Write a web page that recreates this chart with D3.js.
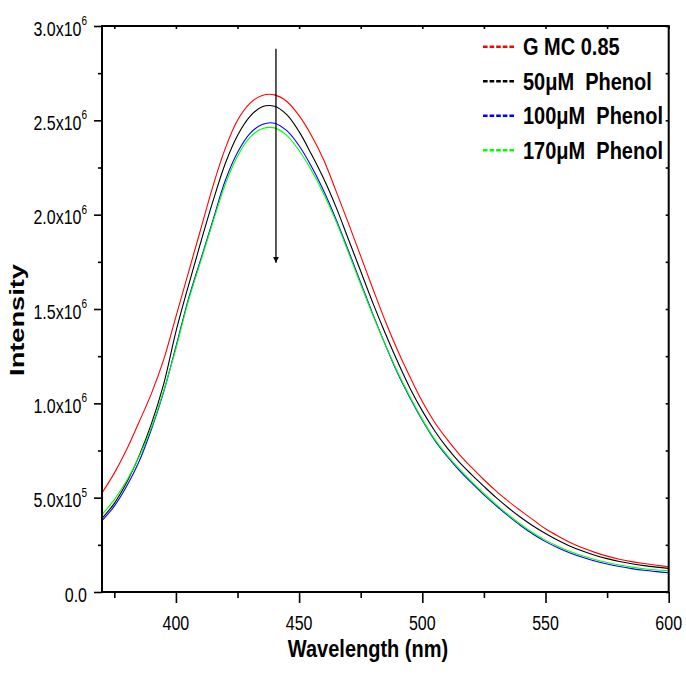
<!DOCTYPE html>
<html>
<head>
<meta charset="utf-8">
<script src="https://cdn.jsdelivr.net/npm/d3@7"></script>
<style>
  body { margin: 0; background: #fff; }
  svg { display: block; }
  .tick-label { font-family: "Liberation Sans", Arial, sans-serif; font-size: 16px; fill: #000; }
  .title { font-family: "Liberation Sans", Arial, sans-serif; font-size: 20px; font-weight: bold; fill: #000; white-space: pre; }
  .series { fill: none; stroke-width: 1.1; }
</style>
</head>
<body>
<div id="chart"></div>
<script>
// emission spectra (intensity, a.u.)
const wavelength = [
  370, 375, 380, 385, 390, 395, 400, 405, 410, 415, 420, 425, 430, 435, 440, 445,
  450, 455, 460, 465, 470, 475, 480, 485, 490, 495, 500, 505, 510, 515, 520, 525,
  530, 535, 540, 545, 550, 555, 560, 565, 570, 575, 580, 585, 590, 595, 600
];
const gmc = [
  5.25e5, 6.30e5, 7.55e5, 9.00e5, 1.050e6, 1.230e6, 1.460e6, 1.690e6, 1.920e6, 2.150e6, 2.350e6, 2.500e6, 2.590e6, 2.632e6, 2.635e6, 2.600e6,
  2.525e6, 2.420e6, 2.290e6, 2.125e6, 1.955e6, 1.780e6, 1.605e6, 1.435e6, 1.280e6, 1.140e6, 1.010e6, 9.00e5, 8.10e5, 7.30e5, 6.60e5, 5.95e5,
  5.35e5, 4.80e5, 4.30e5, 3.82e5, 3.35e5, 2.97e5, 2.63e5, 2.34e5, 2.10e5, 1.90e5, 1.74e5, 1.61e5, 1.51e5, 1.42e5, 1.34e5
];
const phenol50 = [
  3.90e5, 4.70e5, 5.80e5, 7.20e5, 8.90e5, 1.100e6, 1.380e6, 1.620e6, 1.850e6, 2.070e6, 2.270e6, 2.420e6, 2.520e6, 2.572e6, 2.575e6, 2.530e6,
  2.440e6, 2.320e6, 2.190e6, 2.040e6, 1.870e6, 1.700e6, 1.530e6, 1.370e6, 1.220e6, 1.080e6, 9.60e5, 8.55e5, 7.65e5, 6.88e5, 6.22e5, 5.60e5,
  5.00e5, 4.45e5, 3.95e5, 3.50e5, 3.10e5, 2.74e5, 2.43e5, 2.17e5, 1.95e5, 1.77e5, 1.62e5, 1.50e5, 1.40e5, 1.32e5, 1.25e5
];
const phenol100 = [
  3.78e5, 4.55e5, 5.60e5, 6.90e5, 8.60e5, 1.060e6, 1.300e6, 1.550e6, 1.760e6, 1.970e6, 2.180e6, 2.330e6, 2.430e6, 2.478e6, 2.485e6, 2.445e6,
  2.365e6, 2.255e6, 2.125e6, 1.975e6, 1.810e6, 1.640e6, 1.470e6, 1.310e6, 1.160e6, 1.030e6, 9.10e5, 8.05e5, 7.20e5, 6.45e5, 5.78e5, 5.15e5,
  4.57e5, 4.02e5, 3.51e5, 3.06e5, 2.67e5, 2.35e5, 2.07e5, 1.84e5, 1.64e5, 1.48e5, 1.35e5, 1.24e5, 1.15e5, 1.08e5, 1.02e5
];
const phenol170 = [
  4.10e5, 4.90e5, 5.90e5, 7.15e5, 8.70e5, 1.065e6, 1.290e6, 1.540e6, 1.750e6, 1.960e6, 2.160e6, 2.310e6, 2.410e6, 2.455e6, 2.460e6, 2.420e6,
  2.340e6, 2.235e6, 2.110e6, 1.965e6, 1.800e6, 1.630e6, 1.465e6, 1.310e6, 1.165e6, 1.035e6, 9.15e5, 8.10e5, 7.25e5, 6.52e5, 5.85e5, 5.22e5,
  4.63e5, 4.08e5, 3.58e5, 3.13e5, 2.75e5, 2.43e5, 2.15e5, 1.92e5, 1.72e5, 1.56e5, 1.43e5, 1.32e5, 1.23e5, 1.17e5, 1.12e5
];

const seriesNames = ["G MC 0.85", "50\u03bcM  Phenol", "100\u03bcM  Phenol", "170\u03bcM  Phenol"];
const seriesColors = ["#ff0000", "#000000", "#0000ff", "#00ff00"];

const xMajorTicks = [400, 450, 500, 550, 600];
const xMinorTicks = [375, 425, 475, 525, 575];
const yMajorTicks = [0, 5e5, 1e6, 1.5e6, 2e6, 2.5e6, 3e6];
const yMinorTicks = [2.5e5, 7.5e5, 1.25e6, 1.75e6, 2.25e6, 2.75e6];

// quenching arrow, in data units
const arrowWavelength = 440.6;
const arrowFrom = 2.88e6;
const arrowTo = 1.745e6;

const W = 686, H = 674;
const margin = {top: 26, right: 17.3, bottom: 82, left: 102};
const width = W - margin.left - margin.right;
const height = H - margin.top - margin.bottom;
const stretch = 1.28;  // the source figure is squashed horizontally, so its text is tall

const svg = d3.select("#chart").append("svg")
  .attr("width", W)
  .attr("height", H);

const g = svg.append("g")
  .attr("transform", "translate(" + margin.left + "," + margin.top + ")");

const x = d3.scaleLinear().domain([370, 600]).range([0, width]);
const y = d3.scaleLinear().domain([0, 3e6]).range([height, 0]);

// curves
const data = [gmc, phenol50, phenol100, phenol170];
const line = d3.line()
  .x(function(d) { return x(d[0]); })
  .y(function(d) { return y(d[1]); })
  .curve(d3.curveCatmullRom.alpha(0.5));

data.forEach(function(values, i) {
  g.append("path")
    .attr("class", "series")
    .attr("stroke", seriesColors[i])
    .attr("d", line(wavelength.map(function(w, j) { return [w, values[j]]; })));
});

// axes: outward ticks on bottom/left, small inward ticks on top/right
function styleAxis(sel) {
  sel.selectAll("path").remove();
  sel.selectAll("line").attr("stroke", "#000").attr("stroke-width", 1.6);
}

g.append("g").attr("transform", "translate(0," + height + ")")
  .call(d3.axisBottom(x).tickValues(xMajorTicks).tickSize(11).tickFormat(""))
  .call(styleAxis);
g.append("g").attr("transform", "translate(0," + height + ")")
  .call(d3.axisBottom(x).tickValues(xMinorTicks).tickSize(6).tickFormat(""))
  .call(styleAxis);
g.append("g")
  .call(d3.axisLeft(y).tickValues(yMajorTicks).tickSize(8).tickFormat(""))
  .call(styleAxis);
g.append("g")
  .call(d3.axisLeft(y).tickValues(yMinorTicks).tickSize(4).tickFormat(""))
  .call(styleAxis);
g.append("g")
  .call(d3.axisTop(x).tickValues(xMajorTicks.concat(xMinorTicks)).tickSize(-3).tickFormat(""))
  .call(styleAxis);
g.append("g").attr("transform", "translate(" + width + ",0)")
  .call(d3.axisRight(y).tickValues(yMajorTicks.concat(yMinorTicks)).tickSize(-3).tickFormat(""))
  .call(styleAxis);

g.append("rect")
  .attr("width", width)
  .attr("height", height)
  .attr("fill", "none")
  .attr("stroke", "#000")
  .attr("stroke-width", 2);

// tick labels
xMajorTicks.forEach(function(v) {
  g.append("text")
    .attr("class", "tick-label")
    .attr("text-anchor", "middle")
    .attr("transform", "translate(" + x(v) + "," + (height + 38) + ") scale(1," + stretch + ")")
    .text(v);
});

yMajorTicks.forEach(function(v) {
  const t = g.append("text")
    .attr("class", "tick-label")
    .attr("text-anchor", "end")
    .attr("transform", "translate(-15," + (y(v) + 9.7) + ") scale(1," + stretch + ")");
  if (v === 0) {
    t.text("0.0");
    return;
  }
  const exp = Math.floor(Math.log10(v));
  t.append("tspan").text((v / Math.pow(10, exp)).toFixed(1) + "x10");
  t.append("tspan").attr("dy", -8.3).style("font-size", "10px").text(exp);
});

// axis titles
svg.append("text")
  .attr("class", "title")
  .attr("text-anchor", "middle")
  .attr("transform", "translate(368,656.5) scale(1,1.18)")
  .text("Wavelength (nm)");

svg.append("text")
  .attr("class", "title")
  .attr("text-anchor", "middle")
  .attr("transform", "translate(24,320) scale(1,1.36) rotate(-90)")
  .text("Intensity");

// arrow
svg.append("defs").append("marker")
  .attr("id", "head")
  .attr("viewBox", "0 0 10 10")
  .attr("refX", 10).attr("refY", 5)
  .attr("markerWidth", 6).attr("markerHeight", 12)
  .attr("markerUnits", "userSpaceOnUse")
  .attr("orient", "auto")
  .append("path")
  .attr("d", "M0,0L10,5L0,10Z")
  .attr("fill", "#000");

g.append("line")
  .attr("x1", x(arrowWavelength)).attr("x2", x(arrowWavelength))
  .attr("y1", y(arrowFrom)).attr("y2", y(arrowTo))
  .attr("stroke", "#000")
  .attr("stroke-width", 1.3)
  .attr("marker-end", "url(#head)");

// legend
const legend = svg.append("g").attr("transform", "translate(483,55)");
seriesNames.forEach(function(name, i) {
  const row = legend.append("g").attr("transform", "translate(0," + (i * 34.5) + ")");
  row.append("line")
    .attr("x1", 0).attr("x2", 33)
    .attr("y1", -8.3).attr("y2", -8.3)
    .attr("stroke", seriesColors[i])
    .attr("stroke-width", 2.5)
    .attr("stroke-dasharray", "4.6,2");
  row.append("text")
    .attr("class", "title")
    .attr("transform", "translate(40,0) scale(1,1.18)")
    .text(name);
});
</script>
</body>
</html>
